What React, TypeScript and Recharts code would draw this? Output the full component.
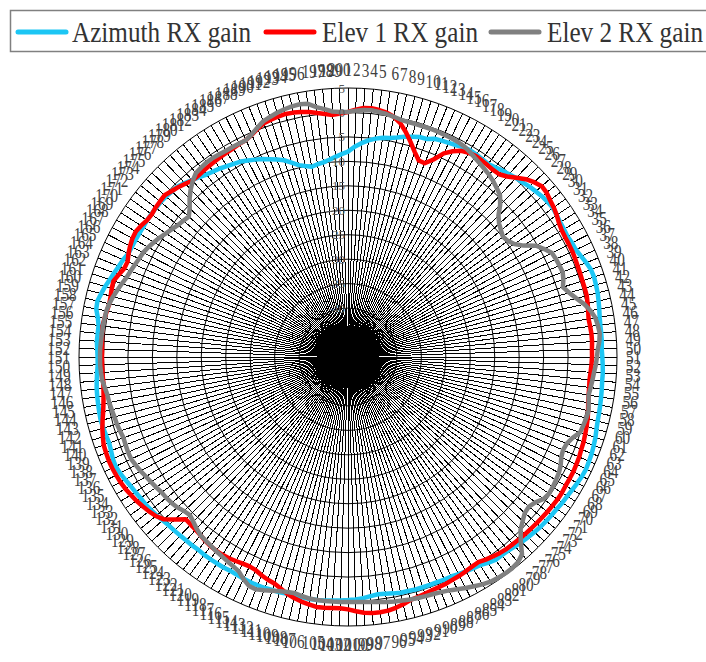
import { RadarChart, Radar, PolarGrid, PolarAngleAxis, PolarRadiusAxis } from "recharts"

const CX = 348
const CY = 357
const R = 269

// 200 sample directions, labelled 1..200
const categories = Array.from({ length: 200 }, (_, i) => String(i + 1))

const azimuth = [
  -8.0, -7.0, -6.2, -5.5, -5.0, -4.6, -4.4, -4.0, -3.5, -3.1,
  -2.7, -2.6, -2.0, -1.8, -1.6, -1.4, -1.0, -0.9, -1.0, -1.1,
  -1.2, -0.9, -0.5, -0.2, 0.2, 0.5, 0.9, 1.2, 1.5, 1.7,
  1.8, 1.6, 1.4, 1.3, 1.2, 1.4, 1.5, 1.9, 2.4, 2.8,
  2.9, 2.8, 2.7, 2.5, 2.3, 2.1, 2.0, 2.0, 2.0, 1.9,
  2.0, 2.1, 2.2, 2.2, 2.3, 2.4, 2.5, 2.6, 2.7, 2.9,
  3.2, 3.4, 3.6, 3.7, 3.8, 3.7, 3.5, 3.3, 3.1, 3.0,
  2.8, 2.7, 2.6, 2.5, 2.3, 2.1, 1.9, 1.6, 1.4, 1.3,
  1.3, 0.9, 0.4, 0.2, 0.0, -0.2, -0.4, -0.4, -0.5, -0.5,
  -0.5, -0.5, -0.6, -0.6, -0.8, -1.0, -1.1, -0.9, -0.6, -0.4,
  -0.3, -0.2, -0.1, 0.0, 0.1, 0.1, 0.0, 0.0, 0.0, 0.1,
  0.1, 0.2, 0.2, 0.2, 0.1, 0.0, -0.1, 0.0, 0.0, 0.0,
  0.0, -0.1, 0.0, 0.0, 0.1, 0.2, 0.3, 0.5, 0.8, 1.0,
  1.2, 1.3, 1.5, 1.7, 2.0, 2.3, 2.5, 2.4, 2.1, 1.9,
  2.0, 2.1, 2.2, 2.1, 2.0, 1.9, 1.8, 1.6, 1.4, 1.2,
  1.2, 1.3, 1.45, 1.4, 1.4, 1.8, 2.4, 2.5, 2.1, 1.7,
  1.2, 0.8, 0.4, 0.1, -0.35, -0.4, -0.4, -0.4, -0.4, -0.3,
  -0.3, -0.3, -0.3, -0.4, -0.6, -0.7, -1.2, -1.8, -2.3, -2.8,
  -3.1, -3.4, -3.8, -4.1, -4.4, -4.9, -5.4, -5.9, -6.5, -7.1,
  -7.7, -8.6, -9.5, -10.0, -10.4, -10.1, -9.9, -9.5, -9.0, -8.5,
]

const elev1 = [
  0.1, 0.6, 1.0, 1.1, 0.9, 0.6, 0.0, -1.0, -2.5, -4.2,
  -5.9, -7.3, -7.4, -6.0, -4.0, -2.8, -1.9, -1.5, -1.3, -1.4,
  -1.5, -1.6, -1.5, -0.8, 0.3, 1.4, 2.2, 2.8, 2.7, 2.3,
  2.0, 1.6, 1.1, 0.8, 0.7, 0.7, 0.7, 0.6, 0.5, 0.45,
  0.4, 0.4, 0.4, 0.2, 0.0, -0.2, -0.1, 0.0, 0.0, -0.1,
  -0.1, -0.2, -0.3, -0.4, -0.3, -0.2, 0.0, 0.3, 0.6, 0.8,
  1.0, 1.2, 1.3, 1.5, 1.6, 1.7, 1.7, 1.7, 1.8, 1.8,
  1.7, 1.6, 1.5, 1.4, 1.3, 1.2, 1.1, 1.0, 0.9, 0.7,
  0.4, 0.1, -0.3, -0.2, 0.0, 0.2, 0.3, 0.5, 0.6, 0.7,
  0.9, 1.1, 1.3, 1.8, 2.2, 2.5, 2.6, 2.6, 2.4, 2.0,
  1.6, 1.4, 1.4, 1.5, 1.5, 1.2, 0.9, 0.5, 0.0, -0.7,
  -1.3, -1.6, -2.0, -2.5, -2.7, -2.6, -2.4, -2.2, -2.1, -2.1,
  -2.2, -2.4, -2.7, -2.9, -3.0, -3.1, -1.5, 0.2, 1.0, 1.5,
  1.9, 2.3, 2.6, 2.9, 3.1, 3.2, 3.3, 3.3, 3.2, 3.1,
  2.7, 2.3, 1.8, 1.3, 0.9, 0.6, 0.4, 0.3, 0.3, 0.3,
  0.3, 0.3, 0.4, 0.5, 0.6, 0.4, 0.2, 0.0, 0.1, 0.3,
  0.4, -0.2, -0.8, -0.9, -0.4, 0.0, 0.3, 0.4, 0.1, -0.3,
  -0.4, -0.2, -0.1, 0.0, -0.5, -0.9, -1.4, -1.9, -1.9, -1.8,
  -1.7, -1.6, -1.5, -1.4, -1.3, -1.1, -1.0, -0.5, 0.2, 0.8,
  1.0, 1.2, 1.3, 1.2, 1.0, 0.7, 0.3, -0.1, -0.4, -0.2,
]

const elev2 = [
  0.1, 0.4, 0.6, 0.7, 0.5, 0.3, 0.0, -0.3, -0.4, -0.4,
  -0.4, -0.4, -0.4, -0.5, -0.5, -0.6, -0.8, -1.2, -1.7, -2.1,
  -2.5, -2.9, -3.4, -4.0, -4.6, -6.0, -7.8, -8.8, -9.4, -9.9,
  -9.6, -8.9, -7.5, -5.3, -4.2, -3.2, -3.0, -2.9, -2.8, -3.2,
  -3.8, -2.9, -1.8, -0.5, 0.5, 1.2, 1.5, 1.7, 1.5, 1.1,
  0.9, 0.7, 0.4, 0.2, 0.0, -0.2, 0.1, 0.4, 0.3, 0.1,
  -0.1, -1.2, -1.9, -2.1, -1.8, -1.2, -0.8, -0.6, -0.4, -0.3,
  -0.6, -1.5, -2.0, -1.8, -1.0, -0.1, 1.6, 3.8, 4.5, 4.7,
  4.7, 4.6, 4.4, 4.0, 3.5, 3.0, 2.5, 2.0, 1.7, 1.5,
  1.4, 1.3, 1.2, 1.0, 0.9, 0.7, 0.5, 0.3, 0.2, 0.1,
  0.1, 0.1, 0.1, 0.1, 0.1, 0.0, -0.2, -0.5, -0.4, -0.1,
  0.25, 0.7, 1.1, 1.0, 0.2, -0.8, -1.2, -1.5, -1.8, -2.0,
  -2.3, -2.5, -2.7, -3.2, -3.8, -4.3, -4.0, -3.5, -3.2, -3.0,
  -2.9, -2.6, -2.3, -2.0, -1.6, -1.3, -1.0, -1.0, -1.1, -1.2,
  -1.0, -0.8, -0.7, -0.5, -0.3, -0.2, 0.1, 0.5, 0.6, 0.7,
  0.7, 0.7, 0.6, 0.55, 0.5, 0.4, 0.3, 0.0, -0.4, -0.9,
  -1.4, -1.9, -2.2, -2.5, -2.8, -3.0, -3.4, -3.9, -4.4, -5.0,
  -5.5, -6.0, -6.3, -6.6, -5.6, -4.2, -3.0, -2.0, -1.2, -1.0,
  -0.8, -0.8, -0.9, -1.0, -1.0, -1.0, -1.0, -0.4, 0.4, 1.2,
  1.6, 2.0, 2.3, 2.5, 2.6, 2.4, 1.5, 0.9, 0.3, 0.1,
]

const seriesNames = ["Azimuth RX gain", "Elev 1 RX gain", "Elev 2 RX gain"]
const seriesColors = ["#1cc6f4", "#ff0000", "#808080"]
const radiusDomain = [-50, 5]

const data = categories.map((c, i) => ({
  cat: c,
  az: azimuth[i],
  e1: elev1[i],
  e2: elev2[i],
}))

const textFont = "'Liberation Serif', 'Times New Roman', serif"

function AngleTick(props: any) {
  const { x, y, payload } = props
  const dx = x - CX
  const dy = y - CY
  const d = Math.hypot(dx, dy) || 1
  const ux = dx / d
  const uy = dy / d
  const px = CX + ux * (R + 9)
  const py = CY + uy * (R + 9)
  const anchor = ux > 0.15 ? "start" : ux < -0.15 ? "end" : "middle"
  return (
    <g transform={`translate(${px},${py})`}>
      <text
        transform="scale(0.8,1)"
        textAnchor={anchor}
        dy={`${0.35 + 0.5 * uy}em`}
        fontSize={19}
        fontFamily={textFont}
        fill="#404040"
      >
        {payload.value}
      </text>
    </g>
  )
}

function RadiusTick(props: any) {
  const { x, y, payload } = props
  // the two innermost labels sit inside the dense spoke area and cannot be seen
  if (payload.value <= -45) return null
  return (
    <text x={x - 3} y={y} dy="0.35em" textAnchor="end" fontSize={13} fontFamily={textFont} fill="#595959">
      {payload.value}
    </text>
  )
}

function LegendBox() {
  const items = [
    { x: 18, tx: 72 },
    { x: 266, tx: 322 },
    { x: 491, tx: 547 },
  ]
  return (
    <svg width={706} height={60} style={{ position: "absolute", left: 0, top: 0 }}>
      <rect x={10.5} y={10.5} width={720} height={41} fill="#fff" stroke="#808080" strokeWidth={1.5} />
      {items.map((it, i) => (
        <g key={seriesNames[i]}>
          <line x1={it.x} x2={it.x + 48} y1={32} y2={32} stroke={seriesColors[i]} strokeWidth={5} strokeLinecap="round" />
          <g transform={`translate(${it.tx},42)`}>
            <text transform="scale(0.84,1)" fontSize={30} fontFamily={textFont} fill="#333">
              {seriesNames[i]}
            </text>
          </g>
        </g>
      ))}
    </svg>
  )
}

export default function App() {
  return (
    <div style={{ position: "absolute", left: 0, top: 0, width: 706, height: 662, background: "#fff", overflow: "hidden" }}>
      <style>{`.recharts-polar-grid-angle line { shape-rendering: crispEdges; }`}</style>
      <RadarChart
        width={706}
        height={662}
        data={data}
        cx={CX}
        cy={CY}
        outerRadius={R}
        margin={{ top: 0, right: 0, bottom: 0, left: 0 }}
      >
        <PolarGrid gridType="circle" stroke="#000" strokeWidth={1} strokeOpacity={1} />
        <PolarAngleAxis dataKey="cat" tick={AngleTick} tickLine={false} axisLine={false} />
        <PolarRadiusAxis
          angle={90}
          type="number"
          domain={radiusDomain}
          tickCount={12}
          tick={RadiusTick}
          axisLine={false}
          tickLine={false}
        />
        <Radar dataKey="az" name={seriesNames[0]} stroke={seriesColors[0]} strokeWidth={4.5} fill="none" fillOpacity={0} dot={false} isAnimationActive={false} strokeLinejoin="round" />
        <Radar dataKey="e1" name={seriesNames[1]} stroke={seriesColors[1]} strokeWidth={4.5} fill="none" fillOpacity={0} dot={false} isAnimationActive={false} strokeLinejoin="round" />
        <Radar dataKey="e2" name={seriesNames[2]} stroke={seriesColors[2]} strokeWidth={4.5} fill="none" fillOpacity={0} dot={false} isAnimationActive={false} strokeLinejoin="round" />
      </RadarChart>
      <LegendBox />
    </div>
  )
}
